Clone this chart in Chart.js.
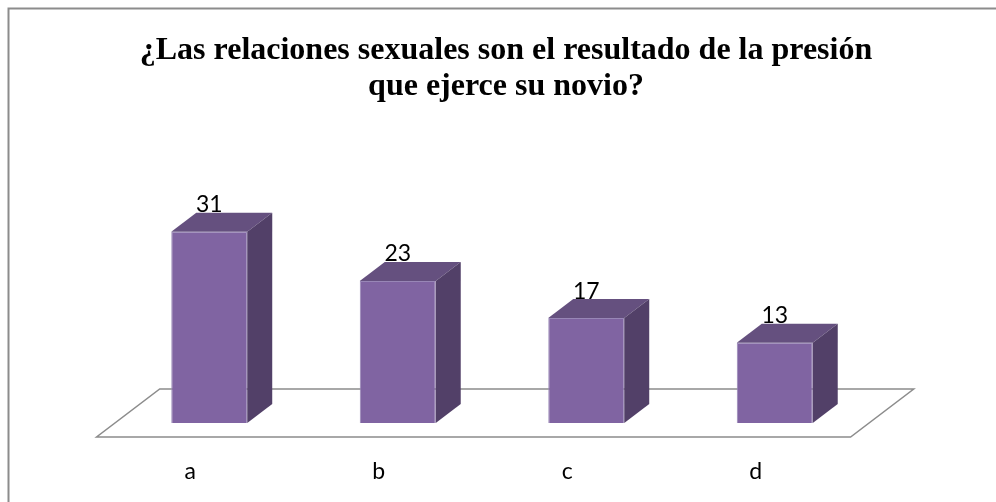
<!DOCTYPE html>
<html>
<head>
<meta charset="utf-8">
<script src="https://cdn.jsdelivr.net/npm/chart.js@4.4.0/dist/chart.umd.min.js"></script>
<style>
  html, body { margin: 0; padding: 0; background: #fff; }
  #wrap { width: 996px; height: 502px; }
</style>
</head>
<body>
<div id="wrap"><canvas id="chart"></canvas></div>
<script>
// chart data
const titleLines = ['¿Las relaciones sexuales son el resultado de la presión', 'que ejerce su novio?'];
const categories = ['a', 'b', 'c', 'd'];
const values = [31, 23, 17, 13];

// 3d look
const frontColor = '#8064a2';
const topColor = '#65507f';
const sideColor = '#524068';
const depthX = 25, depthY = 19;   // bar depth
const floorFront = 14, floorBack = 34; // floor edges around the bar base
const slope = depthX / depthY;

const scene3d = {
  id: 'scene3d',
  beforeDraw(chart) {
    const ctx = chart.ctx;
    ctx.save();
    // frame
    ctx.strokeStyle = '#8c8c8c';
    ctx.lineWidth = 2;
    ctx.strokeRect(8.5, 8.5, 2000, 2000);
    // title
    ctx.fillStyle = '#000';
    ctx.font = 'bold 32px "Liberation Serif"';
    ctx.textAlign = 'center';
    ctx.textBaseline = 'alphabetic';
    ctx.fillText(titleLines[0], 506, 59);
    ctx.fillText(titleLines[1], 506, 95);
    ctx.restore();
  },
  beforeDatasetsDraw(chart) {
    const { ctx, chartArea: a } = chart;
    const base = chart.scales.y.getPixelForValue(0);
    const fy = base + floorFront, by = base - floorBack;
    ctx.save();
    ctx.beginPath();
    ctx.moveTo(a.left - floorFront * slope, fy);
    ctx.lineTo(a.right - floorFront * slope, fy);
    ctx.lineTo(a.right + floorBack * slope, by);
    ctx.lineTo(a.left + floorBack * slope, by);
    ctx.closePath();
    ctx.fillStyle = '#fff';
    ctx.fill();
    ctx.strokeStyle = '#8c8c8c';
    ctx.lineWidth = 1.5;
    ctx.stroke();
    ctx.restore();
  },
  afterDatasetsDraw(chart) {
    const ctx = chart.ctx;
    const meta = chart.getDatasetMeta(0);
    ctx.save();
    meta.data.forEach((bar, i) => {
      const l = bar.x - bar.width / 2, r = bar.x + bar.width / 2;
      const t = bar.y, b = bar.base;
      // top face
      ctx.beginPath();
      ctx.moveTo(l, t);
      ctx.lineTo(r, t);
      ctx.lineTo(r + depthX, t - depthY);
      ctx.lineTo(l + depthX, t - depthY);
      ctx.closePath();
      ctx.fillStyle = topColor;
      ctx.fill();
      // side face
      ctx.beginPath();
      ctx.moveTo(r, t);
      ctx.lineTo(r + depthX, t - depthY);
      ctx.lineTo(r + depthX, b - depthY);
      ctx.lineTo(r, b);
      ctx.closePath();
      ctx.fillStyle = sideColor;
      ctx.fill();
      // value label
      ctx.fillStyle = '#000';
      ctx.font = '23px Lato';
      ctx.textAlign = 'center';
      ctx.textBaseline = 'middle';
      ctx.fillText(String(values[i]), bar.x, t - 27);
    });
    ctx.restore();
  }
};

const ctx = document.getElementById('chart').getContext('2d');
new Chart(ctx, {
  type: 'bar',
  data: {
    labels: categories,
    datasets: [{
      data: values,
      backgroundColor: frontColor,
      borderColor: '#9886b6',
      borderWidth: 1,
      categoryPercentage: 1,
      barPercentage: 0.403
    }]
  },
  options: {
    responsive: true,
    maintainAspectRatio: false,
    animation: false,
    layout: { padding: { left: 115, right: 127, top: 207, bottom: 0 } },
    plugins: {
      legend: { display: false },
      tooltip: { enabled: false },
      title: { display: false }
    },
    scales: {
      x: {
        grid: { display: false, drawTicks: false },
        border: { display: false },
        ticks: { color: '#000', font: { family: 'Lato', size: 23 }, padding: 35, labelOffset: -19 },
        afterFit(axis) { axis.height = 79; }
      },
      y: { display: false, min: 0, max: 35 }
    }
  },
  plugins: [scene3d]
});
</script>
</body>
</html>
